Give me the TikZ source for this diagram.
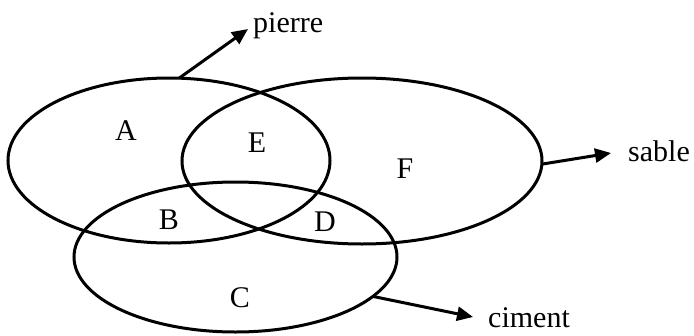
\documentclass[tikz,border=0pt]{standalone}
\usepackage{fontspec}
\setmainfont{Liberation Serif}
\usetikzlibrary{shapes.geometric,arrows.meta}
\begin{document}
\begin{tikzpicture}[x=1pt,y=-1pt,
  setshape/.style={draw,ellipse,line width=3pt,inner sep=0pt,outer sep=0pt},
  region/.style={inner sep=0pt,font=\fontsize{30}{34}\selectfont},
  lbl/.style={inner sep=0pt,anchor=base west,font=\fontsize{30}{34}\selectfont},
  arr/.style={line width=3pt,-{Triangle[length=16pt,width=14pt]}}]
\useasboundingbox (0,0) rectangle (694,335);
\node[setshape,minimum width=322pt,minimum height=165pt] (pierreset) at (169,160.5) {};
\node[setshape,minimum width=360pt,minimum height=166pt] (sableset) at (362,161) {};
\node[setshape,minimum width=323pt,minimum height=150pt] (cimentset) at (235.5,257) {};
\node[region] (a) at (126,131) {A};
\node[region] (e) at (257,143) {E};
\node[region] (f) at (405,169) {F};
\node[region] (b) at (169,220) {B};
\node[region] (d) at (325,222) {D};
\node[region] (c) at (240,298) {C};
\coordinate (ptip) at (248,29);
\coordinate (stip) at (611,153);
\coordinate (ctip) at (473,317);
\node[lbl] (pierre) at (253,32) {pierre};
\node[lbl] (sable) at (628,161) {sable};
\node[lbl] (ciment) at (488,327) {ciment};
\draw[arr] (pierreset.83) -- (ptip);
\draw[arr] (sableset.-1) -- (stip);
\draw[arr] (cimentset.-16) -- (ctip);
\end{tikzpicture}
\end{document}
